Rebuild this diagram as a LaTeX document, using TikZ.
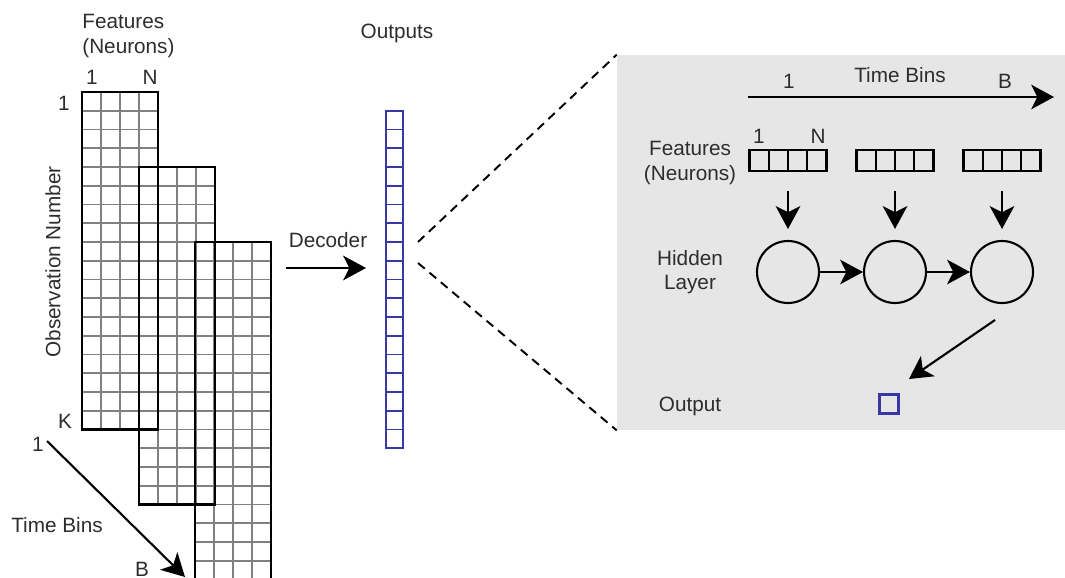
\documentclass[tikz,border=0pt]{standalone}
\usepackage{fontspec}
\setmainfont{Liberation Sans}
\usetikzlibrary{arrows.meta}
\definecolor{outblue}{RGB}{55,55,165}
\definecolor{boxgray}{RGB}{230,230,230}
\definecolor{txtgray}{RGB}{45,45,45}
\newcommand{\cells}[2]{\foreach \ci in {1,2,3} \draw[cellline] (#1+\ci*19, #2) -- ++(0,337.5); \foreach \ri in {1,...,17} \draw[cellline] (#1, #2+\ri*18.75) -- ++(76,0);}
\newcommand{\frameof}[3]{\node[trialframe] (#3) at (#1+38, #2+168.75) {};}
\newcommand{\featrow}[3]{\node[featbox] (#3) at (#1, #2) {}; \foreach \ci in {-19.25,0,19.25} \draw[line width=1.2pt] (#1+\ci, #2-10.5) -- ++(0,21);}

\begin{document}
\begin{tikzpicture}[x=0.02cm, y=-0.02cm,
	lbl/.style={font=\fontsize{11.8}{13.8}\selectfont, text=txtgray, inner sep=0pt},
	cellline/.style={draw=black!50, line width=1pt},
	trialframe/.style={draw, line width=1.3pt, minimum width=1.52cm, minimum height=6.75cm, inner sep=0pt},
	outcol/.style={draw=outblue, line width=1.1pt, minimum width=0.35cm, minimum height=6.75cm, inner sep=0pt},
	featbox/.style={draw, line width=1.2pt, minimum width=1.54cm, minimum height=0.42cm, inner sep=0pt},
	hnode/.style={circle, draw, line width=1.2pt, minimum size=1.24cm, inner sep=0pt},
	outsq/.style={draw=outblue, line width=1.8pt, minimum size=0.38cm, inner sep=0pt},
	arr/.style={-{Stealth[length=13pt,width=14pt,inset=3.5pt]}, line width=1.2pt},
	zoomline/.style={dash pattern=on 5pt off 3.5pt, line width=1.1pt}]
	\useasboundingbox (0,0) rectangle (1065,578);

	% zoomed panel
	\node[fill=boxgray, minimum width=8.96cm, minimum height=7.5cm, inner sep=0pt] (zoombox) at (841,242.5) {};

	% trials: observation x feature grids
	\cells{82}{92}
	\cells{139}{167}
	\cells{195}{242}
	\frameof{82}{92}{trial1}
	\frameof{139}{167}{trial2}
	\frameof{195}{242}{trial3}

	\node[lbl, align=left, anchor=west] (featlbl) at (82,36) {Features\\(Neurons)};
	\node[lbl] (feat1) at (92,77) {1};
	\node[lbl] (featN) at (150,77) {N};
	\node[lbl] (obs1) at (64,103) {1};
	\node[lbl] (obsK) at (65,421) {K};
	\node[lbl, rotate=90] (obslbl) at (53,262) {Observation Number};

	\node[lbl] (tb1) at (38,444) {1};
	\node[lbl] (tblbl) at (57,525) {Time Bins};
	\node[lbl] (tbB) at (142,569) {B};
	\coordinate (tbstart) at (47,441);
	\coordinate (tbend) at (185,577);
	\draw[arr] (tbstart) -- (tbend);

	% decoder and outputs
	\coordinate (decin) at (286,268);
	\coordinate (decout) at (366,268);
	\draw[arr] (decin) -- (decout);
	\node[lbl] (declbl) at (328,240) {Decoder};

	\node[outcol] (outs) at (394.5,279.5) {};
	\foreach \ri in {1,...,17} \draw[draw=outblue, line width=1.1pt] (386,110.75+\ri*18.75) -- ++(17.5,0);
	\node[lbl] (outslbl) at (397,33) {Outputs};

	\coordinate (zoomtop) at (418,242);
	\coordinate (zoombot) at (418,263);
	\draw[zoomline] (zoomtop) -- (zoombox.north west);
	\draw[zoomline] (zoombot) -- (zoombox.south west);

	% inside the panel
	\coordinate (ptbstart) at (748,97);
	\coordinate (ptbend) at (1054,97);
	\draw[arr] (ptbstart) -- (ptbend);
	\node[lbl] (ptb1) at (789,81) {1};
	\node[lbl] (ptblbl) at (900,75) {Time Bins};
	\node[lbl] (ptbB) at (1005,81) {B};

	\node[lbl, align=center] (pfeatlbl) at (690,163) {Features\\(Neurons)};
	\node[lbl] (pf1) at (759,136) {1};
	\node[lbl] (pfN) at (818,136) {N};
	\featrow{788}{160.5}{f1}
	\featrow{895}{160.5}{f2}
	\featrow{1002}{160.5}{f3}

	\node[lbl, align=center] (hidlbl) at (690,272) {Hidden\\Layer};
	\node[hnode] (h1) at (788,272) {};
	\node[hnode] (h2) at (895,272) {};
	\node[hnode] (h3) at (1002,272) {};

	\draw[arr] ([yshift=-0.38cm]f1.south) -- ([yshift=0.22cm]h1.north);
	\draw[arr] ([yshift=-0.38cm]f2.south) -- ([yshift=0.22cm]h2.north);
	\draw[arr] ([yshift=-0.38cm]f3.south) -- ([yshift=0.22cm]h3.north);
	\draw[arr] (h1) -- (h2);
	\draw[arr] (h2) -- (h3);

	\node[lbl] (outlbl) at (690,406) {Output};
	\node[outsq] (outsq) at (889,404) {};
	\coordinate (hidout) at (995,320);
	\coordinate (outin) at (909,379);
	\draw[arr] (hidout) -- (outin);
\end{tikzpicture}
\end{document}
